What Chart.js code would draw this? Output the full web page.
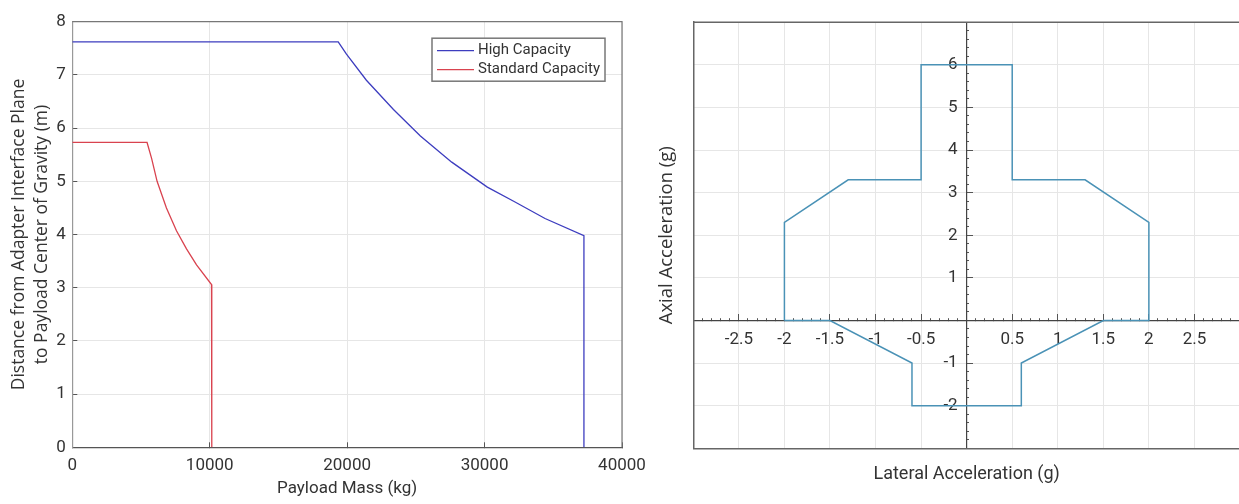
<!DOCTYPE html>
<html lang="en">
<head>
<meta charset="UTF-8">
<title>Payload CG height limits and load factors</title>
<script src="https://cdn.jsdelivr.net/npm/chart.js"></script>
<style>
  body { margin: 0; width: 1239px; height: 504px; overflow: hidden; background: #fff; position: relative; }
  #massChart { position: absolute; left: 0; top: 0; }
  #loadChart { position: absolute; left: 640px; top: 0; }
</style>
</head>
<body>
<canvas id="massChart" width="660" height="504"></canvas>
<canvas id="loadChart" width="620" height="504"></canvas>
<script>
// left: allowed CG height vs payload mass
const highMass = [0, 19350, 19950, 21400, 23370, 25330, 27610, 30200, 32150, 34400, 37230, 37230];
const highDist = [7.62, 7.62, 7.39, 6.90, 6.35, 5.85, 5.36, 4.89, 4.62, 4.30, 3.98, 0];
const stdMass = [0, 5440, 5770, 6170, 6850, 7580, 8310, 9040, 10130, 10150];
const stdDist = [5.73, 5.73, 5.43, 5.00, 4.50, 4.07, 3.73, 3.43, 3.06, 0];

// right: load factor envelope
const lateral = [-2, -2, -1.3, -0.5, -0.5, 0.5, 0.5, 1.3, 2, 2, 1.5, 0.6, 0.6, -0.6, -0.6, -1.5, -2];
const axial = [0, 2.3, 3.3, 3.3, 6, 6, 3.3, 3.3, 2.3, 0, 0, -1, -2, -2, -1, 0, 0];
const lateralTickLabels = [-2.5, -2, -1.5, -1, -0.5, 0.5, 1, 1.5, 2, 2.5];
const axialTickLabels = [-2, -1, 1, 2, 3, 4, 5, 6];

const toPoints = (xs, ys) => xs.map((x, i) => ({ x: x, y: ys[i] }));
const tickFont = { family: 'Roboto', size: 17 };
const textColor = '#333';
const gridColor = '#e6e6e6';
const none = 'rgba(0,0,0,0)';

// top + right edge of the plot box
const frame = {
  id: 'frame',
  afterDraw(chart, args, opts) {
    const { ctx, chartArea: a } = chart;
    ctx.save();
    ctx.strokeStyle = opts.color;
    ctx.lineWidth = opts.width;
    ctx.beginPath();
    ctx.moveTo(a.left, a.top);
    ctx.lineTo(a.right, a.top);
    ctx.lineTo(a.right, a.bottom);
    ctx.stroke();
    ctx.restore();
  }
};

// boxed legend inside the plot, top right
const boxLegend = {
  id: 'boxLegend',
  afterDraw(chart) {
    const { ctx, chartArea: a } = chart;
    const w = 173, h = 43;
    const x0 = a.right - 190, y0 = a.top + 16.5;
    ctx.save();
    ctx.fillStyle = '#fff';
    ctx.fillRect(x0, y0, w, h);
    ctx.strokeStyle = '#777';
    ctx.lineWidth = 1.5;
    ctx.strokeRect(x0, y0, w, h);
    ctx.font = '15px Roboto';
    ctx.textBaseline = 'middle';
    chart.data.datasets.forEach((ds, i) => {
      const y = y0 + 12.5 + i * 19;
      ctx.strokeStyle = ds.borderColor;
      ctx.lineWidth = 1.2;
      ctx.beginPath();
      ctx.moveTo(x0 + 5, y);
      ctx.lineTo(x0 + 42, y);
      ctx.stroke();
      ctx.fillStyle = textColor;
      ctx.fillText(ds.label, x0 + 46, y);
    });
    ctx.restore();
  }
};

new Chart(document.getElementById('massChart'), {
  type: 'scatter',
  data: {
    datasets: [{
      label: 'High Capacity',
      data: toPoints(highMass, highDist),
      showLine: true,
      borderColor: '#3d3dbf',
      borderWidth: 1.3,
      pointRadius: 0
    }, {
      label: 'Standard Capacity',
      data: toPoints(stdMass, stdDist),
      showLine: true,
      borderColor: '#d9434f',
      borderWidth: 1.3,
      pointRadius: 0
    }]
  },
  options: {
    responsive: false,
    animation: false,
    events: [],
    layout: { padding: { left: 0, top: 13.5, right: 38, bottom: 0 } },
    plugins: {
      legend: { display: false },
      tooltip: { enabled: false },
      frame: { color: '#777', width: 1.2 }
    },
    scales: {
      x: {
        type: 'linear',
        min: 0,
        max: 40000,
        ticks: { stepSize: 10000, padding: 13, color: textColor, font: tickFont, callback: v => String(v) },
        grid: { color: gridColor, tickColor: '#555', tickLength: -5 },
        border: { color: '#555', width: 1.2 },
        title: {
          display: true,
          text: 'Payload Mass (kg)',
          color: textColor,
          font: { family: 'Roboto', size: 17 },
          padding: { top: 0, bottom: 5 }
        },
        afterFit: s => { s.height = 56.7; }
      },
      y: {
        min: 0,
        max: 8,
        ticks: { stepSize: 1, padding: 11.5, color: textColor, font: tickFont },
        grid: { color: gridColor, tickColor: '#555', tickLength: -5 },
        border: { color: '#999', width: 1.2 },
        title: {
          display: true,
          text: ['Distance from Adapter Interface Plane', 'to Payload Center of Gravity (m)'],
          color: textColor,
          font: { family: 'Open Sans', size: 17.5, lineHeight: 1.32 },
          padding: { top: 7.5, bottom: 0 }
        },
        afterFit: s => { s.width = 72.3; }
      }
    }
  },
  plugins: [frame, boxLegend]
});

const onStep = (v, step) => Math.abs(v / step - Math.round(v / step)) < 1e-6;
const pick = (list, v) => {
  const r = Math.round(v * 10) / 10;
  return list.includes(r) ? String(r) : '';
};

new Chart(document.getElementById('loadChart'), {
  type: 'scatter',
  data: {
    datasets: [{
      label: 'Load envelope',
      data: toPoints(lateral, axial),
      showLine: true,
      borderColor: '#4a92b6',
      borderWidth: 1.5,
      pointRadius: 0
    }]
  },
  options: {
    responsive: false,
    animation: false,
    events: [],
    layout: { padding: { left: 0, top: 15.3, right: 20, bottom: 0 } },
    plugins: {
      legend: { display: false },
      tooltip: { enabled: false },
      frame: { color: '#666', width: 1.5 }
    },
    scales: {
      x: {
        type: 'linear',
        position: { y: 0 },
        min: -3,
        max: 3,
        ticks: {
          stepSize: 0.1, autoSkip: false, maxRotation: 0, padding: 12,
          color: textColor, font: tickFont,
          callback: v => pick(lateralTickLabels, v)
        },
        grid: {
          color: c => (onStep(c.tick.value, 0.5) && Math.abs(c.tick.value) > 1e-6) ? gridColor : none,
          tickColor: '#555',
          tickLength: -3
        },
        border: { color: '#444', width: 1.2 }
      },
      xMajor: {
        axis: 'x',
        type: 'linear',
        position: { y: 0 },
        min: -3,
        max: 3,
        ticks: { stepSize: 0.5, display: false },
        grid: { drawOnChartArea: false, tickColor: '#555', tickLength: -6 },
        border: { display: false }
      },
      y: {
        type: 'linear',
        position: 'center',
        min: -3,
        max: 7,
        ticks: {
          stepSize: 0.2, autoSkip: false, padding: 12,
          color: textColor, font: tickFont,
          callback: v => pick(axialTickLabels, v)
        },
        grid: {
          color: c => (onStep(c.tick.value, 1) && Math.abs(c.tick.value) > 1e-6) ? gridColor : none,
          tickColor: '#555',
          tickLength: -3
        },
        border: { color: '#444', width: 1.2 }
      },
      yMajor: {
        axis: 'y',
        type: 'linear',
        position: 'center',
        min: -3,
        max: 7,
        ticks: { stepSize: 1, display: false },
        grid: { drawOnChartArea: false, tickColor: '#555', tickLength: -6 },
        border: { display: false }
      },
      xTitle: {
        axis: 'x',
        type: 'linear',
        position: 'bottom',
        min: 0,
        max: 1,
        ticks: { display: false },
        grid: { display: false },
        border: { color: '#666', width: 1.5 },
        title: {
          display: true,
          text: 'Lateral Acceleration (g)',
          color: textColor,
          font: { family: 'Roboto', size: 18 },
          padding: { top: 0, bottom: 19 }
        },
        afterFit: s => { s.height = 55.7; }
      },
      yTitle: {
        axis: 'y',
        type: 'linear',
        position: 'left',
        min: 0,
        max: 1,
        ticks: { display: false },
        grid: { display: false },
        border: { color: '#666', width: 1.5 },
        title: {
          display: true,
          text: 'Axial Acceleration (g)',
          color: textColor,
          font: { family: 'Open Sans', size: 18.5 },
          padding: { top: 16, bottom: 0 }
        },
        afterFit: s => { s.width = 53.3; }
      }
    }
  },
  plugins: [frame]
});
</script>
</body>
</html>
